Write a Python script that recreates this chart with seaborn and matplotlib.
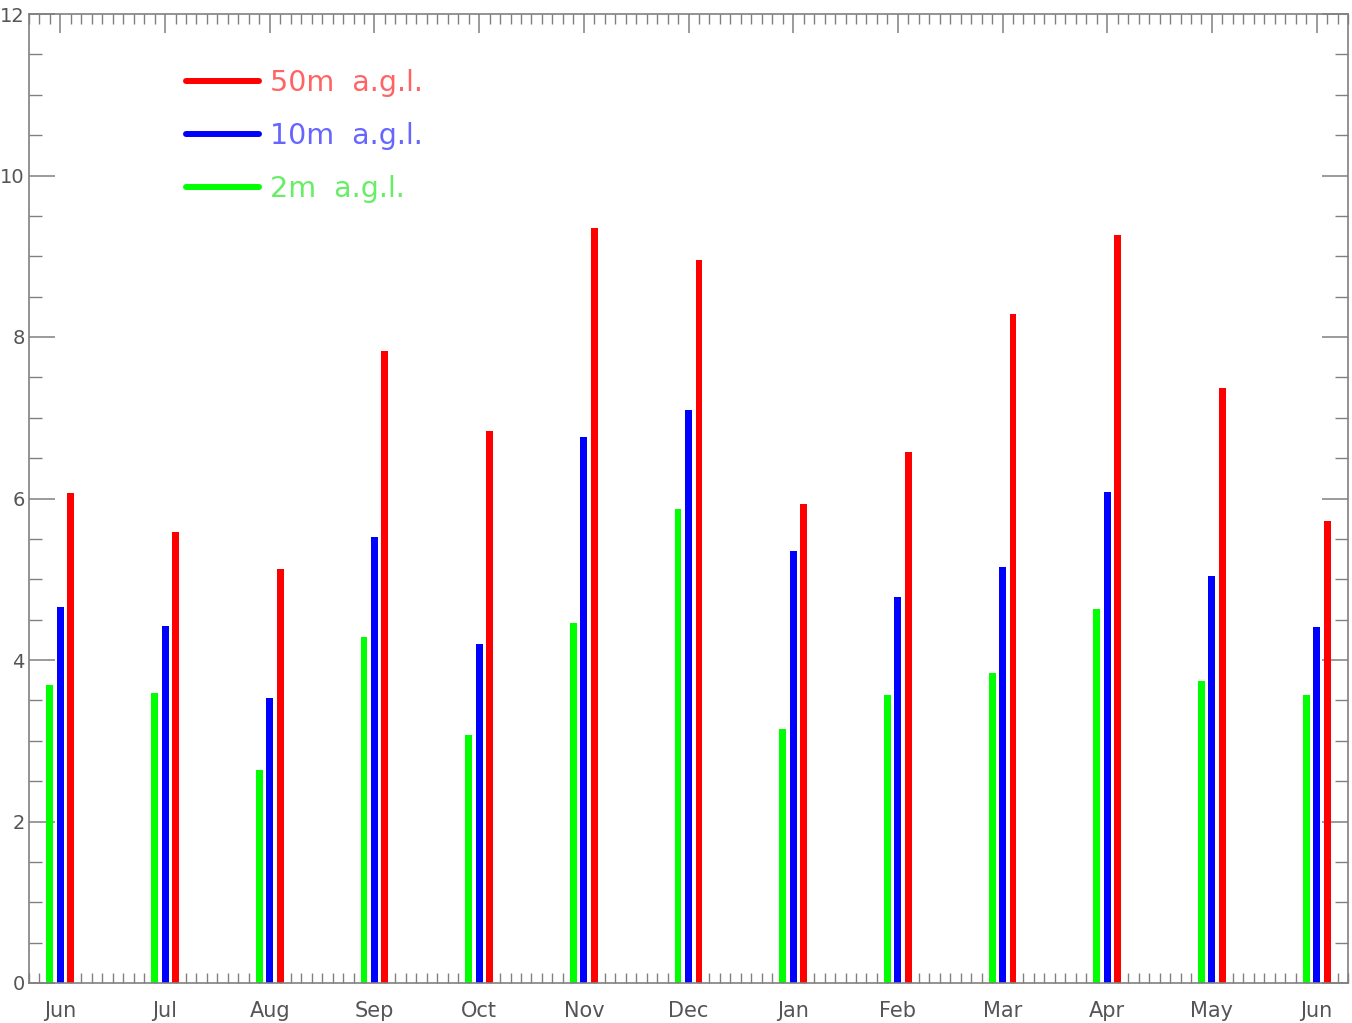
import numpy as np
import pandas as pd
import seaborn as sns
import matplotlib
matplotlib.use('Agg')
import matplotlib.pyplot as plt
from matplotlib.ticker import MultipleLocator
from matplotlib.lines import Line2D

months = ['Jun', 'Jul', 'Aug', 'Sep', 'Oct', 'Nov', 'Dec', 'Jan', 'Feb', 'Mar', 'Apr', 'May', 'Jun']
wind_2m = [3.69, 3.59, 2.64, 4.28, 3.07, 4.46, 5.87, 3.15, 3.57, 3.84, 4.63, 3.74, 3.57]
wind_10m = [4.66, 4.42, 3.53, 5.52, 4.20, 6.76, 7.10, 5.35, 4.78, 5.15, 6.08, 5.04, 4.41]
wind_50m = [6.07, 5.59, 5.13, 7.83, 6.84, 9.35, 8.95, 5.93, 6.58, 8.28, 9.26, 7.37, 5.72]
series_labels = ['2m  a.g.l.', '10m  a.g.l.', '50m  a.g.l.']
series_colors = ['#00ff00', '#0000ff', '#ff0000']
text_colors = ['#66ee66', '#6666ff', '#ff6464']
y_ticks = [0, 2, 4, 6, 8, 10, 12]
y_tick_labels = ['0', '2', '4', '6', '8', '10', '12']

n = len(months)
df = pd.DataFrame({
    'pos': np.tile(np.arange(n), 3),
    'speed': wind_2m + wind_10m + wind_50m,
    'height': np.repeat(series_labels, n),
})

sns.set_theme(style='white')
plt.rcParams['font.family'] = ['DejaVu Sans']

W, H = 1352, 1023
fig = plt.figure(figsize=(W / 100, H / 100), dpi=100)
ax = fig.add_axes([29 / W, 1 - 983 / H, (1348 - 29) / W, (983 - 14) / H])

sns.barplot(data=df, x='pos', y='speed', hue='height', hue_order=series_labels,
            palette=series_colors, width=0.3, gap=0.34, saturation=1,
            errorbar=None, linewidth=0, legend=False, ax=ax)

ax.set_xlim(-0.3, n - 1 + 0.3)
ax.set_ylim(0, 12)
ax.set_xticks(range(n))
ax.set_xticklabels(months)
ax.xaxis.set_minor_locator(MultipleLocator(0.1))
ax.set_yticks(y_ticks)
ax.set_yticklabels(y_tick_labels)
ax.yaxis.set_minor_locator(MultipleLocator(0.5))
ax.set_xlabel('')
ax.set_ylabel('')

axis_col = '#808080'
for s in ax.spines.values():
    s.set_color(axis_col)
    s.set_linewidth(1.2)

ax.tick_params(axis='x', which='major', direction='in', top=True, bottom=True,
               length=13.5, width=1.1, color=axis_col, labelsize=15,
               labelcolor='#555555', pad=13)
ax.tick_params(axis='x', which='minor', direction='in', top=True, bottom=True,
               length=7.5, width=1.0, color=axis_col)
ax.tick_params(axis='y', which='major', direction='in', left=True, right=True,
               length=18.5, width=1.1, color=axis_col, labelsize=14,
               labelcolor='#555555', pad=3)
ax.tick_params(axis='y', which='minor', direction='in', left=True, right=True,
               length=9.3, width=1.0, color=axis_col)

handles = [Line2D([], [], color=series_colors[i], linewidth=4.3) for i in [2, 1, 0]]
labels = [series_labels[i] for i in [2, 1, 0]]
leg = ax.legend(handles, labels, loc='upper left', frameon=False,
                bbox_to_anchor=(186 / W, 1 - 69 / H), bbox_transform=fig.transFigure,
                fontsize=20.5, handlelength=2.55, handletextpad=0.4,
                labelspacing=0.88, borderpad=0, borderaxespad=0)
for t, i in zip(leg.get_texts(), [2, 1, 0]):
    t.set_color(text_colors[i])

fig.savefig('out.png', dpi=100)
